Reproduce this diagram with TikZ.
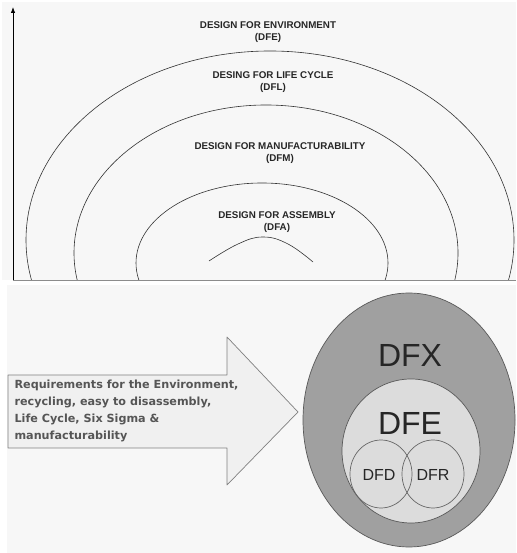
\documentclass[tikz,border=0pt]{standalone}
\usepackage{fontspec}
\setmainfont{Liberation Sans}
\newfontfamily\reqfont{DejaVu Sans}
\definecolor{panelfill}{RGB}{247, 247, 247}
\definecolor{arrowfill}{RGB}{240, 240, 240}
\definecolor{dfxfill}{RGB}{160, 160, 160}
\definecolor{dfefill}{RGB}{220, 220, 220}
\definecolor{reqgray}{RGB}{85, 85, 85}
\usetikzlibrary{arrows.meta}
\tikzset{
    arclabel/.style={align=center, text=black!85,
        font=\fontsize{9.8}{12.5}\selectfont\bfseries},
    reqlabel/.style={align=left, text=reqgray, anchor=west,
        font=\reqfont\fontsize{11.2}{16.8}\selectfont\bfseries},
    bigtag/.style={text=black!85, font=\fontsize{32}{36}\selectfont},
    smalltag/.style={text=black!85, font=\fontsize{16}{18}\selectfont},
    designarc/.style={draw=black!80, line width=.6pt},
}

\begin{document}
\begin{tikzpicture}[x=1pt, y=1pt, line join=round]
    \useasboundingbox (0, 0) rectangle (516, 553);
    \fill[panelfill] (2, 273) rectangle (516, 551);
    \fill[panelfill] (7, 0) rectangle (516, 268);
    % top panel: nested design arcs, cut off at the axis
    \coordinate (origin) at (13, 273);
    \coordinate (axistop) at (13, 546);
    \coordinate (axisend) at (516, 273);
    \begin{scope}
        \clip (13, 273) rectangle (516, 553);
        \draw[designarc] (270, 313) ellipse [x radius=244, y radius=189];
        \draw[designarc] (266, 300) ellipse [x radius=192, y radius=148];
        \draw[designarc] (262, 290) ellipse [x radius=126, y radius=80];
    \end{scope}
    \draw[designarc] plot[smooth, tension=.7] coordinates {(209, 292)
        (238, 309) (263, 316) (288, 309) (313, 291)};
    \draw[black!45, line width=.8pt] (origin) -- (axisend);
    \draw[line width=.8pt, -{Latex[length=6pt, width=4.5pt]}] (origin) -- (axistop);
    \node[arclabel] (dfelabel) at (268, 521) {DESIGN FOR ENVIRONMENT\\(DFE)};
    \node[arclabel] (dfllabel) at (273, 471) {DESING FOR LIFE CYCLE\\(DFL)};
    \node[arclabel] (dfmlabel) at (280, 400) {DESIGN FOR MANUFACTURABILITY\\(DFM)};
    \node[arclabel] (dfalabel) at (277, 331) {DESIGN FOR ASSEMBLY\\(DFA)};
    % bottom panel: requirements arrow into DFX
    \draw[fill=arrowfill, draw=black!50, line width=.7pt] (8, 178) -- (227, 178)
        -- (227, 216) -- (298, 141) -- (227, 68) -- (227, 105) -- (8, 105)
        -- cycle;
    \node[reqlabel] (req) at (11, 142) {Requirements for the Environment,\\
        recycling, easy to disassembly,\\ Life Cycle, Six Sigma \&\\
        manufacturability};
    \draw[fill=dfxfill, draw=black!65, line width=.7pt] (409, 133)
        ellipse [x radius=106, y radius=127];
    \draw[fill=dfefill, draw=black!65, line width=.7pt] (411, 102)
        ellipse [x radius=69, y radius=72];
    \draw[draw=black!60, line width=.7pt] (381, 79)
        ellipse [x radius=31, y radius=34];
    \draw[draw=black!60, line width=.7pt] (433, 79)
        ellipse [x radius=31, y radius=34];
    \node[bigtag] (dfx) at (410, 198) {DFX};
    \node[bigtag] (dfe) at (410, 130) {DFE};
    \node[smalltag] (dfd) at (379, 78) {DFD};
    \node[smalltag] (dfr) at (433, 78) {DFR};
\end{tikzpicture}
\end{document}
